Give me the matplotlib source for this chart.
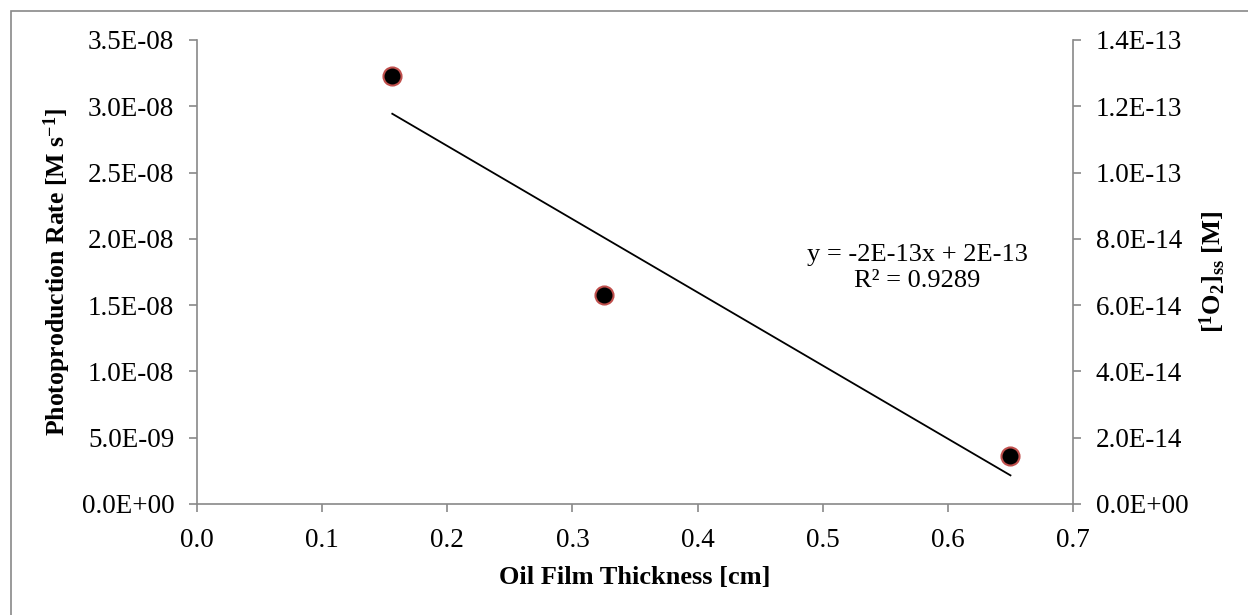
import numpy as np
import matplotlib
matplotlib.use("Agg")
import matplotlib.pyplot as plt
from matplotlib.patches import Rectangle

# values
thickness = [0.156, 0.325, 0.650]              # cm
o2_ss = [1.292e-13, 6.30e-14, 1.46e-14]        # [1O2]ss, M (right axis)
rate_ticks = np.arange(0, 3.6e-08, 5e-09)
o2_ticks = np.arange(0, 1.5e-13, 2e-14)
x_ticks = np.arange(0, 0.71, 0.1)
eq_text = "y = -2E-13x + 2E-13\nR² = 0.9289"

plt.rcParams['font.family'] = ['Liberation Serif', 'DejaVu Serif']
plt.rcParams['mathtext.fontset'] = 'custom'
plt.rcParams['mathtext.rm'] = 'Liberation Serif'
plt.rcParams['mathtext.bf'] = 'Liberation Serif:bold'
plt.rcParams['font.size'] = 19.5

grey = '#898989'

fig = plt.figure(figsize=(12.48, 6.15), dpi=100)
ax = fig.add_axes([0.1579, 0.1805, 0.7019, 0.7545])
ax2 = ax.twinx()

# outer chart-area border (cut off at right/bottom like the source)
fig.patches.append(Rectangle((11 / 1248, -0.2), 1.2, 0.2 + 1 - 11 / 615,
                             transform=fig.transFigure, fill=False,
                             edgecolor=grey, linewidth=1.2, clip_on=False))

# trend line fitted through the points
slope, icpt = np.polyfit(thickness, o2_ss, 1)
xs = np.array([min(thickness), max(thickness)])
ax2.plot(xs, slope * xs + icpt, color='black', linewidth=1.3, zorder=2)
ax2.plot(thickness, o2_ss, 'o', markersize=13, markerfacecolor='black',
         markeredgecolor='#C0504D', markeredgewidth=1.5, zorder=3)

ax.set_xlim(0, 0.7)
ax.set_ylim(0, 3.5e-08)
ax2.set_ylim(0, 1.4e-13)
ax.set_xticks(x_ticks)
ax.set_xticklabels(['%.1f' % v for v in x_ticks])
ax.set_yticks(rate_ticks)
ax.set_yticklabels(['%.1E' % v for v in rate_ticks])
ax2.set_yticks(o2_ticks)
ax2.set_yticklabels(['%.1E' % v for v in o2_ticks])

for a in (ax, ax2):
    for s in a.spines.values():
        s.set_color(grey)
        s.set_linewidth(1.2)
    a.spines['top'].set_visible(False)
    a.tick_params(color=grey, width=1.2, length=5.5, direction='out')
ax.spines['right'].set_visible(False)
ax2.spines['left'].set_visible(False)
ax2.spines['bottom'].set_visible(False)
ax.tick_params(axis='y', pad=11)
ax.tick_params(axis='x', pad=12)
ax2.tick_params(axis='y', pad=11)

ax.set_ylabel(r'Photoproduction Rate [M $\mathbf{s^{-1}}$]', fontweight='bold',
              fontsize=18.5)
ax.yaxis.set_label_coords(-0.1416, 0.5)
ax2.set_ylabel(r'$\mathbf{[^{1}O_{2}]_{ss}}$ [M]', fontweight='bold',
               fontsize=19)
ax2.yaxis.set_label_coords(1.143, 0.5)
ax.set_xlabel('Oil Film Thickness [cm]', fontweight='bold', fontsize=19)
ax.xaxis.set_label_coords(0.5, -0.133)

ax2.text(0.5755, 6.4e-14, eq_text, ha='center', va='bottom', fontsize=19,
         linespacing=1.25)

fig.savefig('out.png', dpi=100)
